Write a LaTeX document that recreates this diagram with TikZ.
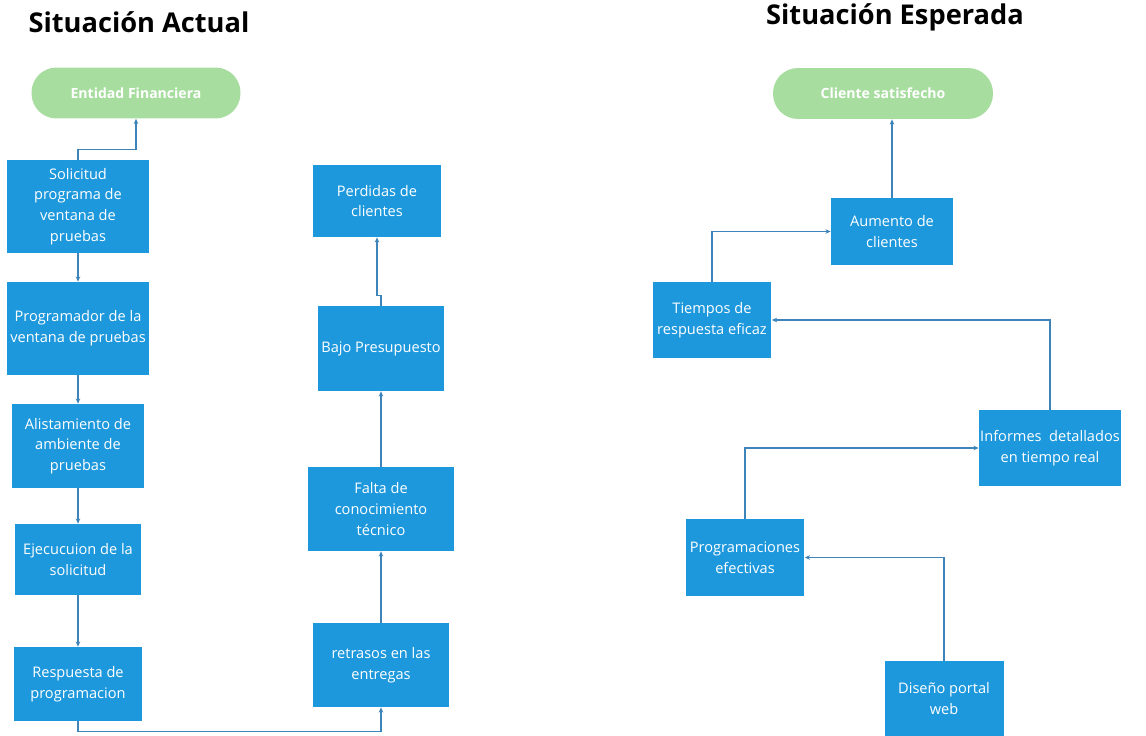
\documentclass[tikz,border=0pt]{standalone}
\usepackage{fontspec}
\setmainfont{Open Sans}
\usetikzlibrary{arrows.meta}
\definecolor{azul}{RGB}{30,152,220}
\definecolor{verde}{RGB}{168,221,160}
\definecolor{linea}{RGB}{62,132,185}

\begin{document}
\begin{tikzpicture}[x=0.02cm, y=-0.02cm,
  caja/.style 2 args={rectangle, fill=azul, text=white, align=center, inner sep=0pt,
    minimum width=#1cm, minimum height=#2cm, font=\fontsize{8.3}{11.8}\selectfont},
  meta/.style={rectangle, rounded corners=0.5cm, fill=verde, text=white, inner sep=0pt,
    minimum width=#1cm, minimum height=1.02cm, font=\bfseries\fontsize{8}{9}\selectfont},
  titulo/.style={font=\bfseries\fontsize{15.5}{17}\selectfont, inner sep=0pt},
  flecha/.style={draw=linea, line width=0.6pt, -{Stealth[length=3pt,width=2.6pt]}}]
\useasboundingbox (0,0) rectangle (1146,736);

% situacion actual
\node[titulo] (tact) at (139,22) {Situación Actual};
\node[meta=4.18] (ent) at (136,93) {Entidad Financiera};
\node[caja={2.86}{1.86}] (sol) at (78,206.5) {Solicitud\\programa de\\ventana de\\pruebas};
\node[caja={2.86}{1.86}] (prog) at (78,328.5) {Programador de la\\ventana de pruebas};
\node[caja={2.64}{1.68}] (alis) at (78,446) {Alistamiento de\\ambiente de\\pruebas};
\node[caja={2.52}{1.42}] (ejec) at (78,559.5) {Ejecucuion de la\\solicitud};
\node[caja={2.56}{1.48}] (resp) at (78,684) {Respuesta de\\programacion};
\node[caja={2.74}{1.68}] (retr) at (381,665) {retrasos en las\\entregas};
\node[caja={2.94}{1.68}] (falt) at (381,509) {Falta de\\conocimiento\\técnico};
\node[caja={2.54}{1.70}] (bajo) at (381,348.5) {Bajo Presupuesto};
\node[caja={2.56}{1.44}] (perd) at (377,201) {Perdidas de\\clientes};

\draw[flecha] (sol.north) -- ++(0,-10) -| (ent.south);
\foreach \a/\b in {sol/prog, prog/alis, alis/ejec, ejec/resp}
  \draw[flecha] (\a.south) -- (\a.south |- \b.north);
\draw[flecha] (resp.south) -- ++(0,10) -| (retr.south);
\draw[flecha] (retr.north) -- (falt.south);
\draw[flecha] (falt.north) -- (bajo.south);
\draw[flecha] (bajo.north) -- ++(0,-10) -| (perd.south);

% situacion esperada
\node[titulo] (tesp) at (895,17) {Situación Esperada};
\node[meta=4.40] (cli) at (883,93.5) {Cliente satisfecho};
\node[caja={2.44}{1.34}] (aum) at (892,231.5) {Aumento de\\clientes};
\node[caja={2.38}{1.52}] (tie) at (712,320) {Tiempos de\\respuesta eficaz};
\node[caja={2.84}{1.52}] (inf) at (1050,448) {Informes~ detallados\\en tiempo real};
\node[caja={2.38}{1.54}] (pro) at (745,557.5) {Programaciones\\efectivas};
\node[caja={2.38}{1.50}] (dis) at (944,698.5) {Diseño portal\\web};

\draw[flecha] (aum.north) -- (aum.north |- cli.south);
\draw[flecha] (tie.north) |- (aum.west);
\draw[flecha] (inf.north) |- (tie.east);
\draw[flecha] (pro.north) |- (inf.west);
\draw[flecha] (dis.north) |- (pro.east);
\end{tikzpicture}
\end{document}
